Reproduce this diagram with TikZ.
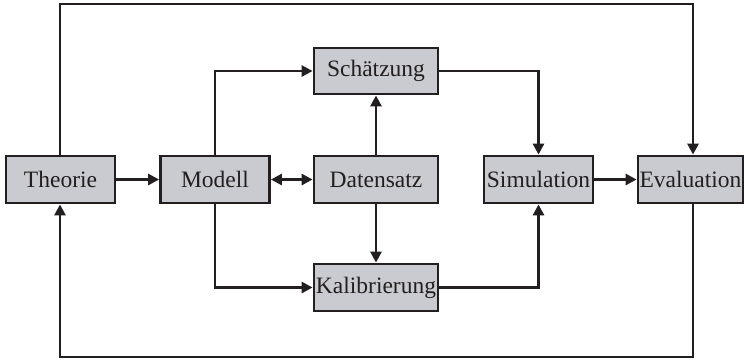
\documentclass[tikz,border=0pt]{standalone}
\usepackage{fontspec}
\setmainfont{Liberation Serif}
\usetikzlibrary{arrows.meta}
\definecolor{boxfill}{HTML}{C9CBD0}
\definecolor{ink}{HTML}{231F20}
\begin{document}
\begin{tikzpicture}[x=1pt,y=-1pt,
  box/.style={draw=ink,fill=boxfill,line width=2.8pt,minimum height=47pt,inner sep=1pt,
    font=\fontsize{23.5}{25}\selectfont,text=ink,anchor=center},
  conn/.style={draw=ink,line width=2.8pt,-{Triangle[length=11pt,width=11pt]}},
  dconn/.style={draw=ink,line width=2.8pt,{Triangle[length=11pt,width=11pt]}-{Triangle[length=11pt,width=11pt]}}]
\useasboundingbox (0,0) rectangle (744,360);
\node[box,minimum width=109pt] (theorie) at (60.5,179.5) {Theorie};
\node[box,minimum width=109pt] (modell) at (215,179.5) {Modell};
\node[box,minimum width=124pt] (daten) at (376,179.5) {Datensatz};
\node[box,minimum width=124pt,minimum height=46pt] (schaetz) at (376,71) {Schätzung};
\node[box,minimum width=124pt] (kalib) at (376,287.5) {Kalibrierung};
\node[box,minimum width=109pt] (sim) at (538.5,179.5) {Simulation};
\node[box,minimum width=105pt] (eval) at (690.5,179.5) {Evaluation};
\coordinate (tl) at (60,4);
\coordinate (tr) at (693,4);
\coordinate (bl) at (60,357);
\coordinate (br) at (693,357);
\draw[conn] (theorie.north -| tl) -- (tl) -- (tr) -- (eval.north -| tr);
\draw[conn] (eval.south -| br) -- (br) -- (bl) -- (theorie.south -| bl);
\draw[conn] (theorie) -- (modell);
\draw[dconn] (modell) -- (daten);
\draw[conn] (modell.north) |- (schaetz.west);
\draw[conn] (modell.south) |- (kalib.west);
\draw[conn] (daten) -- (schaetz);
\draw[conn] (daten) -- (kalib);
\draw[conn] (schaetz.east) -| (sim.north);
\draw[conn] (kalib.east) -| (sim.south);
\draw[conn] (sim) -- (eval);
\end{tikzpicture}
\end{document}
